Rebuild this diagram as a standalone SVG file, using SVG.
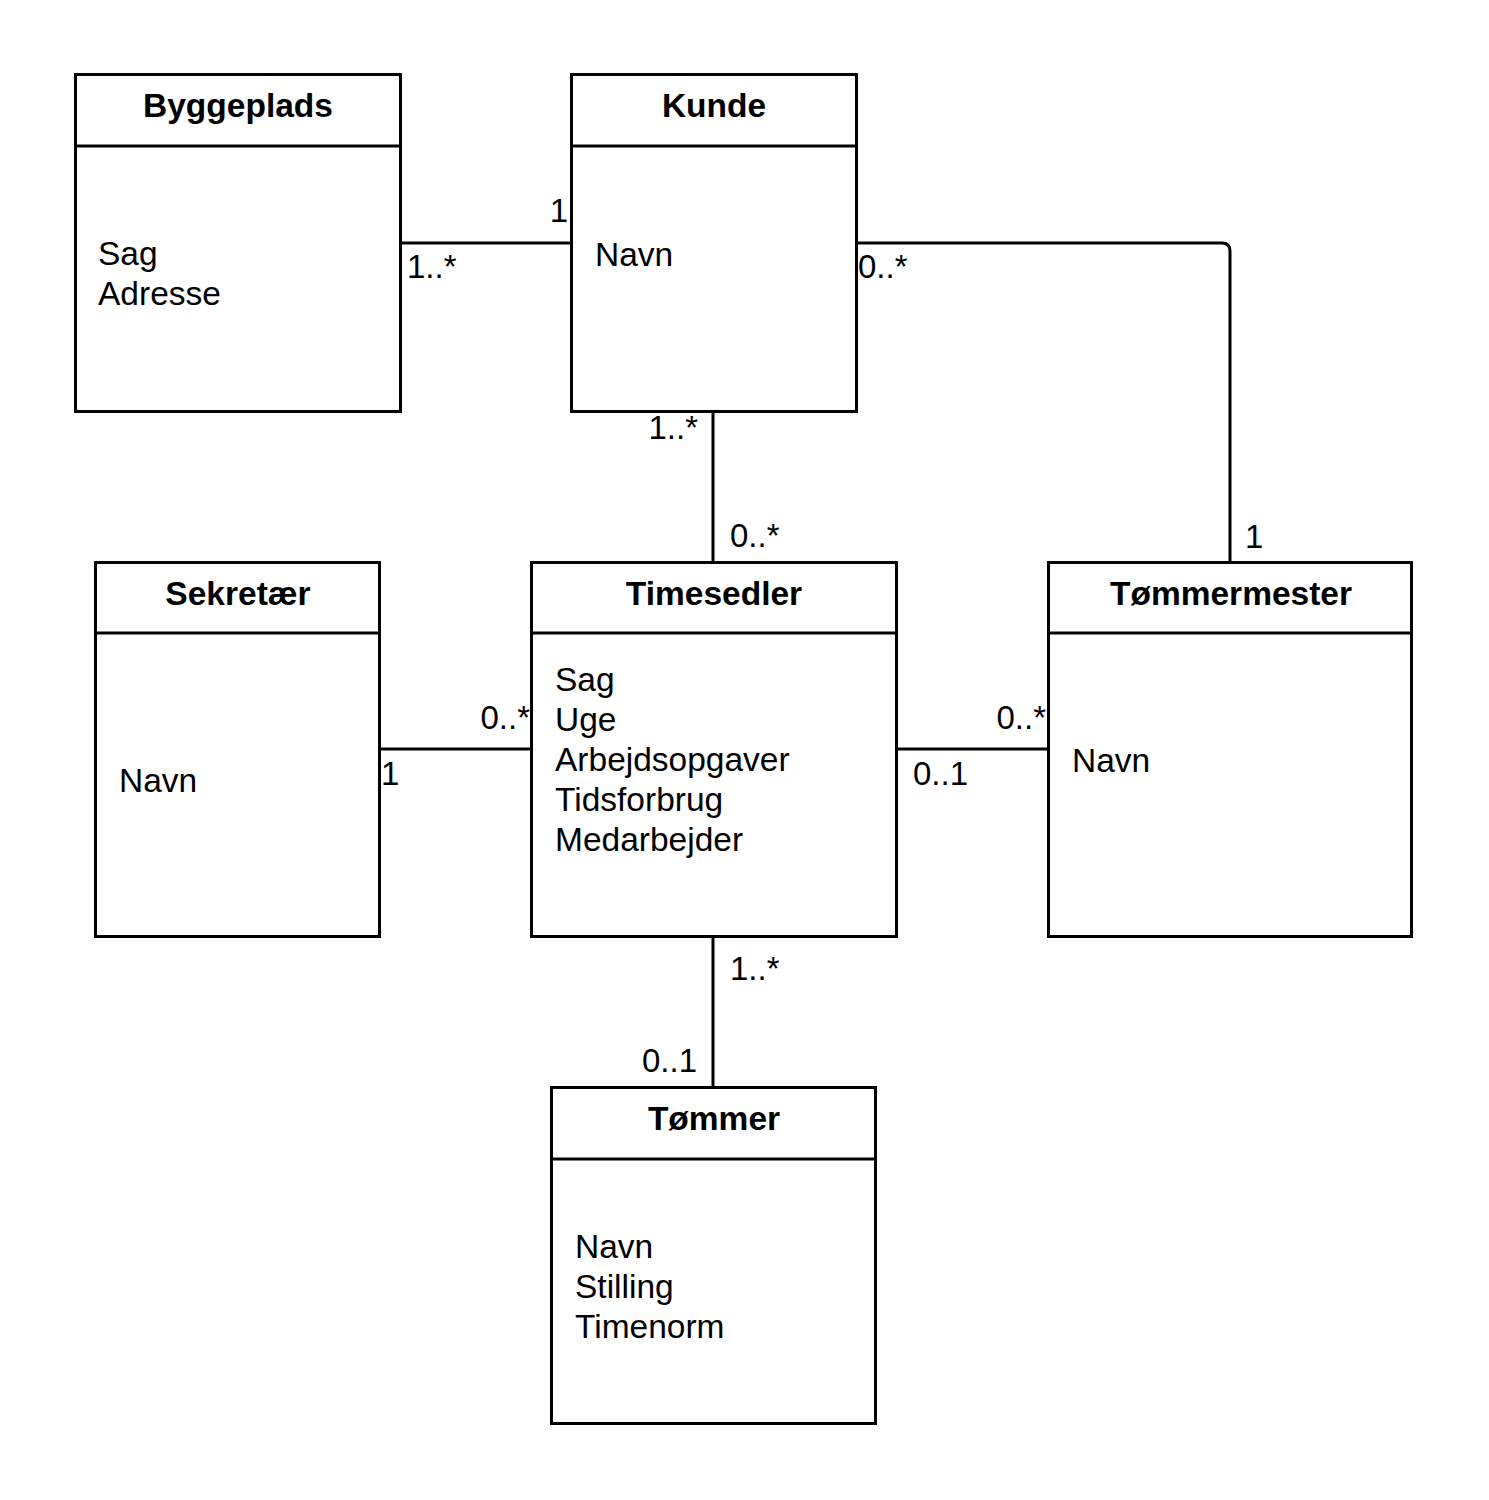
<svg xmlns="http://www.w3.org/2000/svg" width="1489" height="1500" viewBox="0 0 1489 1500">
<style>
.box{fill:#fff;stroke:#000;stroke-width:3}
.div{stroke:#000;stroke-width:3}
.edge{fill:none;stroke:#000;stroke-width:3}
.t{font-family:"Liberation Sans",Arial,sans-serif;font-size:33.5px;font-weight:bold;text-anchor:middle;fill:#000}
.a{font-family:"Liberation Sans",Arial,sans-serif;font-size:33.5px;fill:#000}
.l{font-family:"Liberation Sans",Arial,sans-serif;font-size:33px;fill:#000}
.r{text-anchor:end}
</style>
<rect width="1489" height="1500" fill="#fff"/>
<g id="connectors">
<line class="edge" x1="400" y1="243" x2="571" y2="243"/>
<path class="edge" d="M856,243 H1222 Q1230,243 1230,251 V562"/>
<line class="edge" x1="713" y1="412" x2="713" y2="562"/>
<line class="edge" x1="379" y1="749" x2="531" y2="749"/>
<line class="edge" x1="897" y1="749" x2="1048" y2="749"/>
<line class="edge" x1="713" y1="937" x2="713" y2="1087"/>
<text class="l r" x="568" y="222">1</text>
<text class="l" x="407" y="278">1..*</text>
<text class="l" x="858" y="278">0..*</text>
<text class="l r" x="698" y="439">1..*</text>
<text class="l" x="730" y="547">0..*</text>
<text class="l" x="1245" y="548">1</text>
<text class="l r" x="530" y="729">0..*</text>
<text class="l" x="381" y="785">1</text>
<text class="l r" x="1046" y="729">0..*</text>
<text class="l" x="913" y="785">0..1</text>
<text class="l" x="730" y="980">1..*</text>
<text class="l r" x="697" y="1072">0..1</text>
</g>
<g id="byggeplads">
<rect class="box" x="75.5" y="74.5" width="325" height="337"/>
<line class="div" x1="75.5" y1="146" x2="400.5" y2="146"/>
<text class="t" x="238" y="117">Byggeplads</text>
<text class="a" x="98" y="265">Sag</text>
<text class="a" x="98" y="305">Adresse</text>
</g>
<g id="kunde">
<rect class="box" x="571.5" y="74.5" width="285" height="337"/>
<line class="div" x1="571.5" y1="146" x2="856.5" y2="146"/>
<text class="t" x="714" y="117">Kunde</text>
<text class="a" x="595" y="266">Navn</text>
</g>
<g id="sekretaer">
<rect class="box" x="95.5" y="562.5" width="284" height="374"/>
<line class="div" x1="95.5" y1="633" x2="379.5" y2="633"/>
<text class="t" x="238" y="605">Sekretær</text>
<text class="a" x="119" y="792">Navn</text>
</g>
<g id="timesedler">
<rect class="box" x="531.5" y="562.5" width="365" height="374"/>
<line class="div" x1="531.5" y1="633" x2="896.5" y2="633"/>
<text class="t" x="714" y="605">Timesedler</text>
<text class="a" x="555" y="691">Sag</text>
<text class="a" x="555" y="731">Uge</text>
<text class="a" x="555" y="771">Arbejdsopgaver</text>
<text class="a" x="555" y="811">Tidsforbrug</text>
<text class="a" x="555" y="851">Medarbejder</text>
</g>
<g id="tommermester">
<rect class="box" x="1048.5" y="562.5" width="363" height="374"/>
<line class="div" x1="1048.5" y1="633" x2="1411.5" y2="633"/>
<text class="t" x="1231" y="605">Tømmermester</text>
<text class="a" x="1072" y="772">Navn</text>
</g>
<g id="tommer">
<rect class="box" x="551.5" y="1087.5" width="324" height="336"/>
<line class="div" x1="551.5" y1="1159" x2="875.5" y2="1159"/>
<text class="t" x="714" y="1130">Tømmer</text>
<text class="a" x="575" y="1258">Navn</text>
<text class="a" x="575" y="1298">Stilling</text>
<text class="a" x="575" y="1338">Timenorm</text>
</g>
</svg>
